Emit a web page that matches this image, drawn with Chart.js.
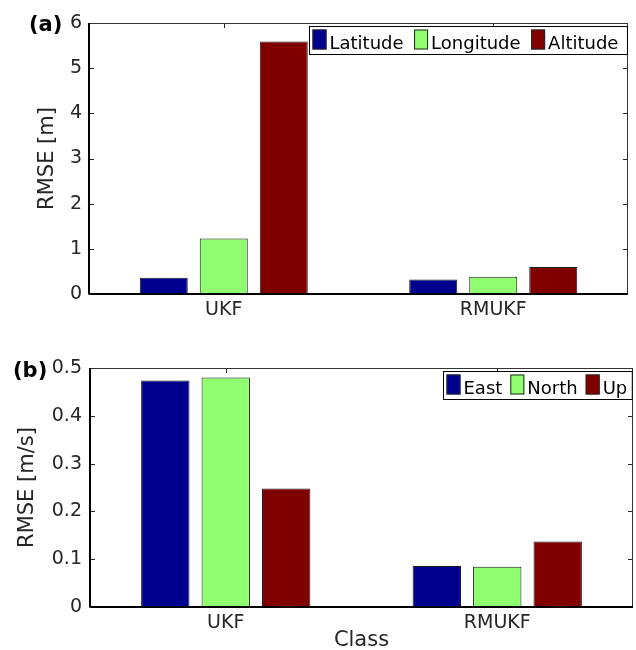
<!DOCTYPE html>
<html>
<head>
<meta charset="utf-8">
<script src="https://cdn.jsdelivr.net/npm/chart.js@4/dist/chart.umd.min.js"></script>
<style>
  html, body { margin: 0; padding: 0; background: #fff; }
  #page { position: relative; width: 636px; height: 650px; overflow: hidden; }
  .panel { position: absolute; left: 0; width: 636px; height: 325px; }
  .tag { position: absolute; font: bold 21px "DejaVu Sans"; line-height: 1; color: #000; }
</style>
</head>
<body>
<div id="page">
  <div class="panel" style="top:0"><canvas id="posChart" width="636" height="325"></canvas></div>
  <div class="panel" style="top:325px"><canvas id="velChart" width="636" height="325"></canvas></div>
  <div class="tag" style="left:29px;top:14px">(a)</div>
  <div class="tag" style="left:13px;top:360px">(b)</div>
</div>
<script>
const filters = ['UKF', 'RMUKF'];

// position error, metres
const latitude = [0.36, 0.32];
const longitude = [1.23, 0.38];
const altitude = [5.59, 0.60];
const posTicks = [0, 1, 2, 3, 4, 5, 6];

// velocity error, m/s
const east = [0.474, 0.086];
const north = [0.480, 0.084];
const up = [0.248, 0.137];
const velTicks = [0, 0.1, 0.2, 0.3, 0.4, 0.5];

const BLUE = '#00008F';
const GREEN = '#8FFF70';
const RED = '#800000';
const INK = '#262626';

Chart.defaults.font.family = '"DejaVu Sans"';
Chart.defaults.font.size = 19;
Chart.defaults.color = INK;

// axes box with inward ticks, MATLAB style
const frame = {
  id: 'frame',
  beforeDatasetsDraw(chart) {
    const { ctx, chartArea: a, scales: { x, y } } = chart;
    ctx.save();
    ctx.strokeStyle = INK;
    ctx.lineWidth = 1;
    ctx.beginPath();
    y.ticks.forEach((t, i) => {
      const py = Math.round(y.getPixelForTick(i)) + 0.5;
      ctx.moveTo(a.left, py); ctx.lineTo(a.left + 5, py);
      ctx.moveTo(a.right, py); ctx.lineTo(a.right - 5, py);
    });
    x.ticks.forEach((t, i) => {
      const px = Math.round(x.getPixelForTick(i)) + 0.5;
      ctx.moveTo(px, a.top); ctx.lineTo(px, a.top + 5);
      ctx.moveTo(px, a.bottom); ctx.lineTo(px, a.bottom - 5);
    });
    ctx.stroke();
    ctx.restore();
  },
  afterDatasetsDraw(chart) {
    const { ctx, chartArea: a } = chart;
    ctx.save();
    ctx.strokeStyle = '#333';
    ctx.lineWidth = 1;
    ctx.strokeRect(Math.round(a.left) + 0.5, Math.round(a.top) + 0.5,
      Math.round(a.right - a.left) - 1, Math.round(a.bottom - a.top));
    ctx.strokeStyle = '#000';
    ctx.lineWidth = 2;
    ctx.beginPath();
    ctx.moveTo(a.left - 0.5, Math.round(a.bottom));
    ctx.lineTo(a.right, Math.round(a.bottom));
    ctx.moveTo(Math.round(a.left), a.top);
    ctx.lineTo(Math.round(a.left), a.bottom);
    ctx.stroke();
    ctx.restore();
  }
};

// boxed legend in the top right corner of the axes
const boxLegend = {
  id: 'boxLegend',
  afterDraw(chart, args, opts) {
    const { ctx, chartArea: a } = chart;
    const sets = chart.data.datasets;
    ctx.save();
    ctx.font = '18px "DejaVu Sans"';
    const sw = 14, gap = 3, padL = 3, h = 28;
    const itemGap = opts.itemGap, padR = opts.padR;
    const widths = sets.map(d => ctx.measureText(d.label).width);
    let w = padL + padR + itemGap * (sets.length - 1);
    widths.forEach(tw => { w += sw + gap + tw; });
    const right = a.right - 1.5;
    const left = Math.round(right - w) + 0.5;
    const top = Math.round(a.top + 2.5) + 0.5;
    ctx.fillStyle = '#fff';
    ctx.fillRect(left, top, w, h);
    ctx.strokeStyle = '#000';
    ctx.lineWidth = 1;
    ctx.strokeRect(left, top, w, h);
    let x = left + padL;
    sets.forEach((d, i) => {
      ctx.fillStyle = d.backgroundColor;
      ctx.fillRect(x, top + 3, sw, 20);
      ctx.strokeStyle = INK;
      ctx.strokeRect(x + 0.5, top + 3.5, sw - 1, 19);
      ctx.fillStyle = '#000';
      ctx.textBaseline = 'alphabetic';
      ctx.fillText(d.label, x + sw + gap, top + 22.5);
      x += sw + gap + widths[i] + itemGap;
    });
    ctx.restore();
  }
};

function bars(label, values, color) {
  return {
    label: label,
    data: values,
    backgroundColor: color,
    borderColor: '#1a1a1a',
    borderWidth: 1,
    categoryPercentage: 0.668,
    barPercentage: 0.8
  };
}

function makeChart(id, sets, ticks, yTitle, xTitle, box) {
  return new Chart(document.getElementById(id), {
    type: 'bar',
    data: { labels: filters, datasets: sets },
    plugins: [frame, boxLegend],
    options: {
      responsive: false,
      devicePixelRatio: 1,
      animation: false,
      layout: { padding: { top: box.top, right: box.right, left: 0, bottom: 0 } },
      plugins: {
        legend: { display: false },
        tooltip: { enabled: false },
        boxLegend: { itemGap: box.itemGap, padR: box.padR }
      },
      scales: {
        x: {
          grid: { display: false, drawTicks: false },
          border: { display: false },
          ticks: { padding: 5, color: INK },
          title: xTitle
            ? { display: true, text: xTitle, color: INK, font: { size: 21 }, padding: { top: 0, bottom: -3.3 } }
            : { display: false },
          afterFit(s) { s.height = box.xh; }
        },
        y: {
          min: ticks[0],
          max: ticks[ticks.length - 1],
          grid: { display: false, drawTicks: false },
          border: { display: false },
          ticks: { padding: box.tickPad, color: INK },
          afterBuildTicks(s) { s.ticks = ticks.map(v => ({ value: v })); },
          title: {
            display: true, text: yTitle, color: INK, font: { size: 21 },
            padding: { top: box.titlePad, bottom: 0 }
          },
          afterFit(s) { s.width = box.yw; }
        }
      }
    }
  });
}

makeChart('posChart', [
  bars('Latitude', latitude, BLUE),
  bars('Longitude', longitude, GREEN),
  bars('Altitude', altitude, RED)
], posTicks, 'RMSE [m]', null,
  { top: 23, right: 8, xh: 31, yw: 89, tickPad: 7, titlePad: 34.9, itemGap: 10.5, padR: 9 });

makeChart('velChart', [
  bars('East', east, BLUE),
  bars('North', north, GREEN),
  bars('Up', up, RED)
], velTicks, 'RMSE [m/s]', 'Class',
  { top: 43, right: 3, xh: 43, yw: 90, tickPad: 8, titlePad: 14.9, itemGap: 8, padR: 5 });
</script>
</body>
</html>
